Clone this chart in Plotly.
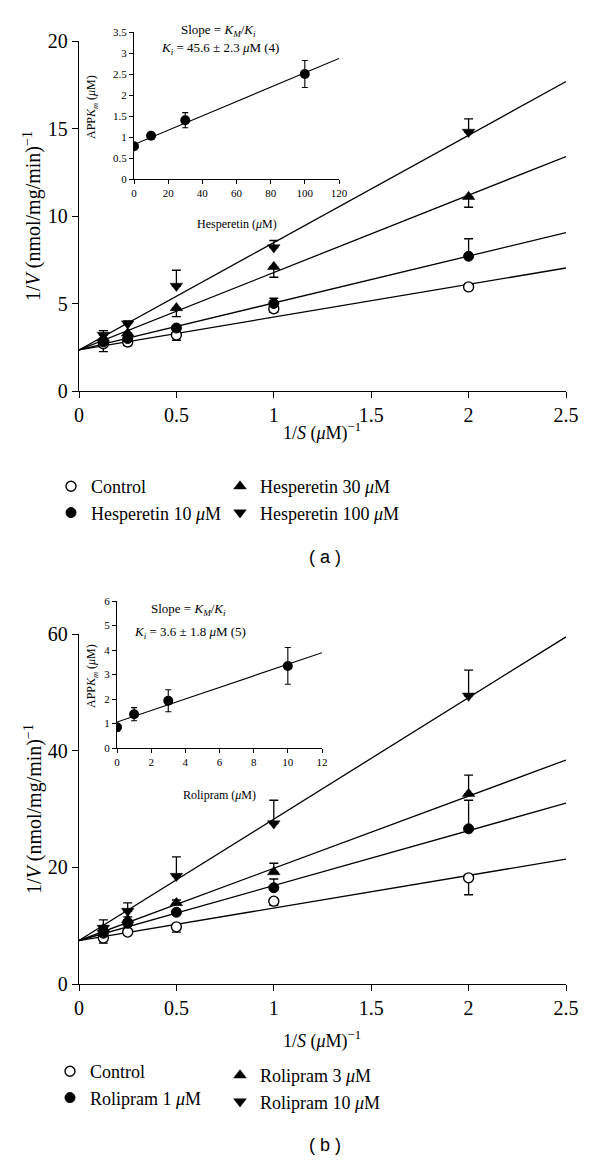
import plotly.graph_objects as go

W, H = 600, 1163

# ---------------- data: panel (a) ----------------
inv_s = [0.125, 0.25, 0.5, 1, 2]
a_names = ["Control", "Hesperetin 10 <i>μ</i>M", "Hesperetin 30 <i>μ</i>M", "Hesperetin 100 <i>μ</i>M"]
a_control = [2.7, 2.8, 3.2, 4.7, 5.95]
a_control_minus = [0.45, 0.2, 0.3, 0.2, 0.15]
a_h10 = [2.8, 3.0, 3.6, 5.0, 7.7]
a_h10_plus = [0.2, 0.2, 0.15, 0.3, 1.0]
a_h30 = [3.0, 3.3, 4.75, 7.1, 11.1]
a_h30_minus = [0.2, 0.2, 0.5, 0.6, 0.6]
a_h100 = [3.2, 3.85, 6.0, 8.2, 14.8]
a_h100_plus = [0.25, 0.15, 0.9, 0.4, 0.75]
fit_x = [0, 2.5]
a_fit_start = 2.35
a_fit_end = [7.03, 9.05, 13.4, 17.68]

# inset (a)
a_in_x = [0, 10, 30, 100]
a_in_y = [0.78, 1.03, 1.4, 2.5]
a_in_err = [0.05, 0.08, 0.18, 0.32]
a_in_fit_x = [0, 120]
a_in_fit_y = [0.82, 2.87]

# ---------------- data: panel (b) ----------------
b_names = ["Control", "Rolipram 1 <i>μ</i>M", "Rolipram 3 <i>μ</i>M", "Rolipram 10 <i>μ</i>M"]
b_control = [7.9, 8.9, 9.8, 14.2, 18.2]
b_control_minus = [0.9, 0.3, 0.9, 0.7, 2.9]
b_r1 = [8.7, 10.4, 12.3, 16.5, 26.6]
b_r1_plus = [0.5, 0.5, 0.5, 1.5, 4.9]
b_r3 = [9.5, 11.0, 13.9, 19.2, 32.6]
b_r3_plus = [0.5, 0.5, 0.5, 1.5, 3.2]
b_r10 = [9.6, 12.5, 18.5, 27.5, 49.4]
b_r10_plus = [1.4, 1.4, 3.3, 4.0, 4.4]
b_fit_start = 7.45
b_fit_end = [21.4, 31.0, 38.4, 59.5]

# inset (b)
b_in_x = [0, 1, 3, 10]
b_in_y = [0.85, 1.38, 1.93, 3.35]
b_in_err = [0.15, 0.27, 0.45, 0.75]
b_in_fit_x = [0, 12]
b_in_fit_y = [1.06, 3.89]

SERIF = "Liberation Serif"
SANS = "Liberation Sans"

def px_x(p):
    return p / W

def px_y(p):
    return 1 - p / H

fig = go.Figure()

def err(plus=None, minus=None):
    n = 5
    return dict(type="data", symmetric=False,
                array=plus if plus is not None else [0] * n,
                arrayminus=minus if minus is not None else [0] * n,
                color="black", thickness=1.3, width=4.5)

markers = [
    dict(symbol="circle", size=10, color="white", line=dict(color="black", width=1.4)),
    dict(symbol="circle", size=10, color="black", line=dict(color="black", width=1)),
    dict(symbol="triangle-up", size=11, color="black", line=dict(color="black", width=0.5)),
    dict(symbol="triangle-down", size=11, color="black", line=dict(color="black", width=0.5)),
]

def add_panel(xa, ya, names, ys, errs, start, ends, leg_left, leg_right):
    # fit lines
    for e in ends:
        fig.add_trace(go.Scatter(x=fit_x, y=[start, e], mode="lines",
                                 line=dict(color="black", width=1.3),
                                 xaxis=xa, yaxis=ya, showlegend=False, hoverinfo="skip"))
    legends = [leg_left, leg_left, leg_right, leg_right]
    for i, (nm, y, e) in enumerate(zip(names, ys, errs)):
        fig.add_trace(go.Scatter(x=inv_s, y=y, mode="markers", name=nm,
                                 marker=markers[i], error_y=e,
                                 xaxis=xa, yaxis=ya, legend=legends[i]))

add_panel("x", "y", a_names, [a_control, a_h10, a_h30, a_h100],
          [err(minus=a_control_minus), err(plus=a_h10_plus), err(minus=a_h30_minus), err(plus=a_h100_plus)],
          a_fit_start, a_fit_end, "legend", "legend2")
add_panel("x3", "y3", b_names, [b_control, b_r1, b_r3, b_r10],
          [err(minus=b_control_minus), err(plus=b_r1_plus), err(plus=b_r3_plus), err(plus=b_r10_plus)],
          b_fit_start, b_fit_end, "legend3", "legend4")

# insets
for xa, ya, ix, iy, ie, fx, fy in [("x2", "y2", a_in_x, a_in_y, a_in_err, a_in_fit_x, a_in_fit_y),
                                   ("x4", "y4", b_in_x, b_in_y, b_in_err, b_in_fit_x, b_in_fit_y)]:
    fig.add_trace(go.Scatter(x=fx, y=fy, mode="lines", line=dict(color="black", width=1.2),
                             xaxis=xa, yaxis=ya, showlegend=False, hoverinfo="skip"))
    fig.add_trace(go.Scatter(x=ix, y=iy, mode="markers",
                             marker=dict(symbol="circle", size=10, color="black"),
                             error_y=dict(type="data", array=ie, color="black", thickness=1.1, width=3),
                             xaxis=xa, yaxis=ya, showlegend=False, hoverinfo="skip"))

main_axis = dict(showline=True, linecolor="black", linewidth=1.4, ticks="outside", ticklen=6,
                 tickwidth=1.2, tickcolor="black", showgrid=False, zeroline=False, automargin=False,
                 tickfont=dict(family=SERIF, size=20, color="black"))
inset_axis = dict(showline=True, linecolor="black", linewidth=1.2, ticks="outside", ticklen=4,
                  tickwidth=1, tickcolor="black", showgrid=False, zeroline=False, automargin=False,
                  tickfont=dict(family=SERIF, size=11, color="black"))

fig.update_layout(
    width=W, height=H, margin=dict(l=0, r=0, t=0, b=0, autoexpand=False),
    paper_bgcolor="white", plot_bgcolor="rgba(0,0,0,0)",
    xaxis=dict(main_axis, domain=[px_x(79), px_x(566)], range=[0, 2.5], dtick=0.5, anchor="y",
               tickformat="~g"),
    yaxis=dict(main_axis, domain=[px_y(391), px_y(41)], range=[0, 20], dtick=5, anchor="x"),
    xaxis2=dict(inset_axis, domain=[px_x(134), px_x(339)], range=[0, 120], dtick=20, anchor="y2"),
    yaxis2=dict(inset_axis, domain=[px_y(179), px_y(32)], range=[0, 3.5], dtick=0.5, anchor="x2",
                tickformat="~g"),
    xaxis3=dict(main_axis, domain=[px_x(79), px_x(566)], range=[0, 2.5], dtick=0.5, anchor="y3",
                tickformat="~g"),
    yaxis3=dict(main_axis, domain=[px_y(984), px_y(634)], range=[0, 60], dtick=20, anchor="x3"),
    xaxis4=dict(inset_axis, domain=[px_x(117), px_x(322)], range=[0, 12], dtick=2, anchor="y4"),
    yaxis4=dict(inset_axis, domain=[px_y(748), px_y(601)], range=[0, 6], dtick=1, anchor="x4"),
    showlegend=True,
)

leg_common = dict(orientation="v", xanchor="left", yanchor="top", bgcolor="rgba(0,0,0,0)",
                  font=dict(family=SERIF, size=18, color="black"), tracegroupgap=0)
fig.update_layout(
    legend=dict(leg_common, x=px_x(51), y=px_y(468)),
    legend2=dict(leg_common, x=px_x(220), y=px_y(468)),
    legend3=dict(leg_common, x=px_x(50), y=px_y(1053)),
    legend4=dict(leg_common, x=px_x(220), y=px_y(1057)),
)

def ann(x, y, text, size, family=SERIF, angle=0):
    fig.add_annotation(x=px_x(x), y=px_y(y), xref="paper", yref="paper", text=text,
                       showarrow=False, textangle=angle, xanchor="center", yanchor="middle",
                       font=dict(family=family, size=size, color="black"))

ytitle = "1/<i>V</i> (nmol/mg/min)<sup>−1</sup>"
xtitle = "1/<i>S</i> (<i>μ</i>M)<sup>−1</sup>"
ann(33, 216, ytitle, 20, angle=-90)
ann(33, 809, ytitle, 20, angle=-90)
ann(322, 432, xtitle, 18)
ann(322, 1040, xtitle, 18)

# inset labels
ann(218, 30, "Slope = <i>K<sub>M</sub></i>/<i>K<sub>i</sub></i>", 13)
ann(220, 49, "<i>K<sub>i</sub></i> = 45.6 ± 2.3 <i>μ</i>M (4)", 13)
ann(237, 224, "Hesperetin (<i>μ</i>M)", 12)
ann(92, 107, "APP<i>K<sub>m</sub></i> (<i>μ</i>M)", 12, angle=-90)

ann(188, 610, "Slope = <i>K<sub>M</sub></i>/<i>K<sub>i</sub></i>", 13)
ann(190, 632, "<i>K<sub>i</sub></i> = 3.6 ± 1.8 <i>μ</i>M (5)", 13)
ann(219, 795, "Rolipram (<i>μ</i>M)", 12)
ann(92, 676, "APP<i>K<sub>m</sub></i> (<i>μ</i>M)", 12, angle=-90)

ann(325, 557, "( a )", 18, family=SANS)
ann(325, 1145, "( b )", 18, family=SANS)

fig.write_html("out.html", config={"displayModeBar": False},
               post_script="document.body.style.margin='0';document.body.style.padding='0';")
